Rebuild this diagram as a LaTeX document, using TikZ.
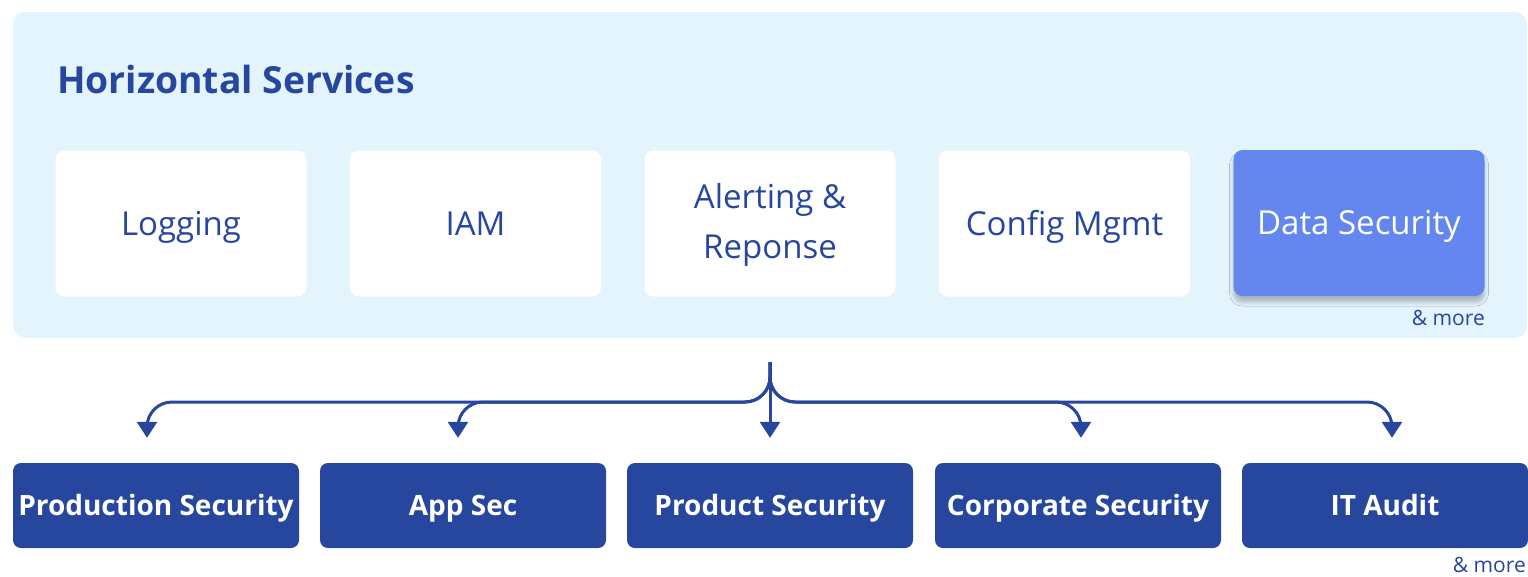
\documentclass[tikz,border=0pt]{standalone}
\usepackage{fontspec}
\setmainfont{Open Sans}
\usetikzlibrary{arrows.meta,shadows.blur}
\definecolor{navy}{HTML}{27469E}
\definecolor{panelblue}{HTML}{E3F4FD}
\definecolor{accent}{HTML}{6387EE}
\begin{document}
\begin{tikzpicture}[x=1pt,y=-1pt,
  panelbox/.style={rectangle,rounded corners=12pt,fill=panelblue,inner sep=0pt,
    minimum width=1514pt,minimum height=326pt},
  svcbox/.style={rectangle,rounded corners=9pt,fill=white,inner sep=0pt,
    minimum width=251pt,minimum height=146pt,text=navy,align=center,
    font=\fontsize{33}{50}\selectfont},
  oneline/.style={text height=23.6pt,text depth=0pt},
  hlbox/.style={svcbox,oneline,fill=accent,text=white,
    blur shadow={shadow xshift=0pt,shadow yshift=-6pt,shadow blur radius=4pt,shadow opacity=25}},
  teambox/.style={rectangle,rounded corners=8pt,fill=navy,inner sep=0pt,
    minimum width=286pt,minimum height=85pt,text=white,text height=20pt,text depth=0pt,
    font=\fontsize{28}{30}\selectfont\bfseries},
  moretext/.style={inner sep=0pt,text=navy,font=\fontsize{21}{24}\selectfont},
  flow/.style={draw=navy,line width=3pt,rounded corners=25pt,
    -{Triangle[width=20pt,length=16pt]}}
]
\useasboundingbox (0,0) rectangle (1528,576);

% service layer
\node[panelbox] (panel) at (770,175) {};
\node[anchor=base west,inner sep=0pt,text=navy,font=\fontsize{37.3}{40}\selectfont\bfseries]
  (title) at (57,93) {Horizontal Services};

\node[svcbox,oneline] (logging) at (181,223.5) {Logging};
\node[svcbox,oneline] (iam) at (475.5,223.5) {IAM};
\node[svcbox] (alert) at (770,223.5) {};
\node[inner sep=0pt,text=navy,font=\fontsize{33}{50}\selectfont,anchor=base] (alert1) at (770,208) {Alerting \&};
\node[inner sep=0pt,text=navy,font=\fontsize{33}{50}\selectfont,anchor=base] (alert2) at (770,258) {Reponse};
\node[svcbox,oneline] (config) at (1064.5,223.5) {Config Mgmt};
\node[hlbox] (datasec) at (1359,223) {Data Security};
\node[moretext,anchor=base east] (more1) at (1485,325) {\& more};

% teams
\node[teambox] (prodsec) at (156,505.5) {Production Security};
\node[teambox] (appsec) at (463,505.5) {App Sec};
\node[teambox] (product) at (770,505.5) {Product Security};
\node[teambox] (corp) at (1078,505.5) {Corporate Security};
\node[teambox] (audit) at (1385,505.5) {IT Audit};
\node[moretext,anchor=base east] (more2) at (1526,572) {\& more};

% distribution arrows
\coordinate (hub) at (770,362);
\draw[flow] (hub) -- (770,402) -| ([xshift=-9pt,yshift=25pt]prodsec.north);
\draw[flow] (hub) -- (770,402) -| ([xshift=-5pt,yshift=25pt]appsec.north);
\draw[flow] (hub) -- (770,402) -| ([xshift=3pt,yshift=25pt]corp.north);
\draw[flow] (hub) -- (770,402) -| ([xshift=7pt,yshift=25pt]audit.north);
\draw[flow,rounded corners=0pt] (hub) -- ([yshift=25pt]product.north);
\end{tikzpicture}
\end{document}
